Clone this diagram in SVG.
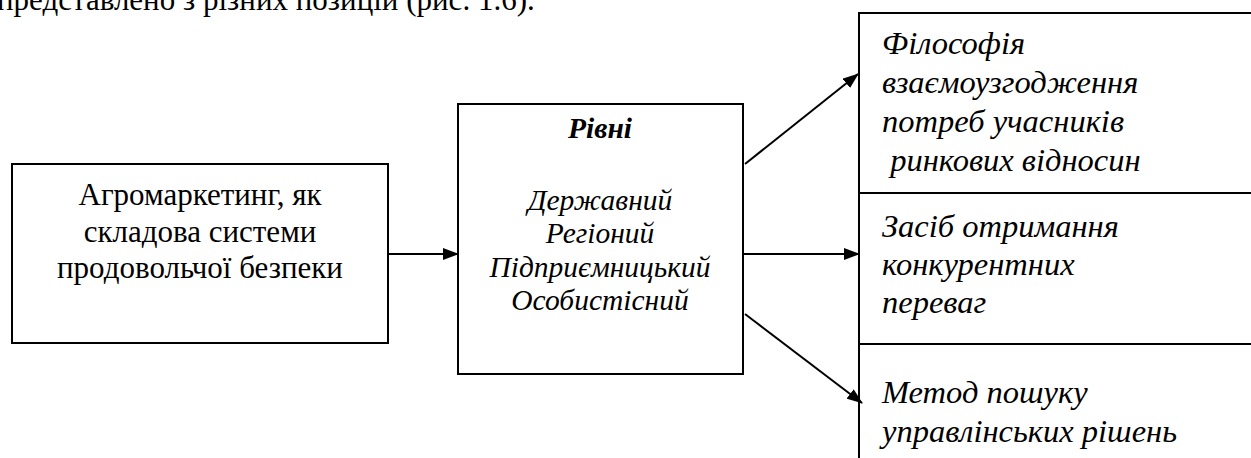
<svg xmlns="http://www.w3.org/2000/svg" width="1251" height="458" viewBox="0 0 1251 458">
<style>
.box{fill:#fff;stroke:#000;stroke-width:2}
.ln{stroke:#000;stroke-width:2;fill:none}
.r{font-size:31px}
.m{font-size:29.5px;font-style:italic;text-anchor:middle}
.i{font-size:32.5px;font-style:italic}
.c{text-anchor:middle}
</style>
<defs>
<marker id="ah" markerWidth="16" markerHeight="12" refX="15" refY="6" orient="auto" markerUnits="userSpaceOnUse">
<path d="M0,0 L16,6 L0,12 Z" fill="#000"/>
</marker>
</defs>
<g font-family="Liberation Serif, Times New Roman, DejaVu Serif, serif" fill="#000">
<text class="r" x="-3" y="10">представлено з різних позицій (рис. 1.6).</text>
<g id="node-agro">
<rect class="box" x="12" y="164" width="376" height="179"/>
<text class="r c" x="200" y="205">Агромаркетинг, як</text>
<text class="r c" x="200" y="242">складова системи</text>
<text class="r c" x="200" y="278">продовольчої безпеки</text>
</g>
<g id="node-levels">
<rect class="box" x="458" y="104" width="285" height="270"/>
<text class="m" x="600" y="138" font-weight="bold">Рівні</text>
<text class="m" x="600" y="210">Державний</text>
<text class="m" x="600" y="243">Регіоний</text>
<text class="m" x="600" y="277">Підприємницький</text>
<text class="m" x="600" y="310">Особистісний</text>
</g>
<g id="node-right">
<rect class="box" x="859" y="13" width="410" height="470"/>
<line class="ln" x1="859" y1="193" x2="1251" y2="193"/>
<line class="ln" x1="859" y1="344" x2="1251" y2="344"/>
</g>
<g id="node-philosophy">
<text class="i" x="882" y="54">Філософія</text>
<text class="i" x="882" y="93">взаємоузгодження</text>
<text class="i" x="882" y="132">потреб учасників</text>
<text class="i" x="882" y="171" xml:space="preserve"> ринкових відносин</text>
</g>
<g id="node-means">
<text class="i" x="882" y="237">Засіб отримання</text>
<text class="i" x="882" y="275">конкурентних</text>
<text class="i" x="882" y="313">переваг</text>
</g>
<g id="node-method">
<text class="i" x="882" y="403">Метод пошуку</text>
<text class="i" x="882" y="442">управлінських рішень</text>
</g>
</g>
<g id="connectors">
<line class="ln" x1="388" y1="254" x2="458" y2="254" marker-end="url(#ah)"/>
<line class="ln" x1="743" y1="254" x2="859" y2="254" marker-end="url(#ah)"/>
<line class="ln" x1="745" y1="164" x2="858" y2="74" marker-end="url(#ah)"/>
<line class="ln" x1="745" y1="314" x2="862" y2="403" marker-end="url(#ah)"/>
</g>
</svg>
